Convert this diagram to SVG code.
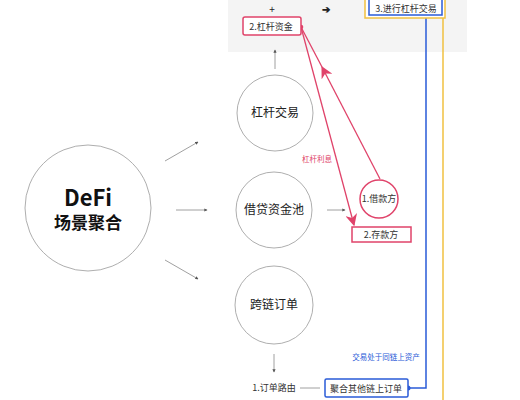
<svg xmlns="http://www.w3.org/2000/svg" width="520" height="400" viewBox="0 0 520 400">
<defs>
<style>
text{font-family:"Noto Sans CJK SC","Liberation Sans",sans-serif;}
.circ{fill:#fff;stroke:#999;stroke-width:0.8;}
.lbl{font-size:12px;fill:#222;text-anchor:middle;}
.gl{stroke:#888;stroke-width:0.8;fill:none;}
.pk{stroke:#e0436a;stroke-width:1.3;fill:none;}
.pkbox{fill:#fff;stroke:#e0436a;stroke-width:1.5;}
.bl{stroke:#2a5bd7;stroke-width:1.5;fill:none;}
.small{font-size:9px;fill:#333;text-anchor:middle;}
</style>
<marker id="ga" viewBox="0 0 6 6" refX="5" refY="3" markerWidth="4" markerHeight="4" orient="auto"><path d="M0,0 L6,3 L0,6 z" fill="#555"/></marker>
<marker id="pa" viewBox="0 0 10 10" refX="9" refY="5" markerWidth="12" markerHeight="12" markerUnits="userSpaceOnUse" orient="auto"><path d="M0,0 L10,5 L0,10 L3,5 z" fill="#e0436a"/></marker>
</defs>
<rect x="0" y="0" width="520" height="400" fill="#fff"/>
<rect x="228" y="0" width="239" height="52" fill="#f4f4f4"/>
<g id="connectors">
<line class="gl" x1="165" y1="161" x2="198" y2="142" marker-end="url(#ga)"/>
<line class="gl" x1="176" y1="210" x2="207" y2="210" marker-end="url(#ga)"/>
<line class="gl" x1="165" y1="260" x2="198" y2="279" marker-end="url(#ga)"/>
<line class="gl" x1="275" y1="69" x2="275" y2="50" marker-end="url(#ga)"/>
<line class="gl" x1="327" y1="210" x2="345" y2="210" marker-end="url(#ga)"/>
<line class="gl" x1="274" y1="354" x2="274" y2="372" marker-end="url(#ga)"/>
<line class="gl" x1="300" y1="388" x2="320" y2="388"/>
<line class="pk" x1="301" y1="27" x2="354" y2="225" marker-end="url(#pa)"/>
<line class="pk" x1="380" y1="179" x2="322" y2="67" marker-end="url(#pa)"/>
<line class="pk" x1="322" y1="67" x2="301" y2="27"/>
<polyline class="bl" points="426,15 426,388 408,388"/>
<line x1="443" y1="18" x2="443" y2="400" stroke="#f0c040" stroke-width="1.5"/>
<circle cx="301" cy="27" r="2.3" fill="#e0436a"/>
<circle cx="408" cy="388" r="2.5" fill="#2a5bd7"/>
</g>
<g id="top-ops">
<text x="272" y="13" font-size="10" font-family="Liberation Sans" text-anchor="middle" fill="#222">+</text>
<text x="326" y="13" font-size="10" font-family="DejaVu Sans" text-anchor="middle" fill="#222" font-weight="bold">➔</text>
</g>
<g id="n-trade3">
<rect x="365" y="-5" width="80" height="23" fill="#fff" stroke="#f0c040" stroke-width="1.5"/>
<rect x="369" y="-5" width="73" height="20" fill="#fff" stroke="#2a5bd7" stroke-width="1.5"/>
<text x="406" y="11.5" class="small" font-size="9.5">3.进行杠杆交易</text>
</g>
<g id="n-fund2">
<rect x="243" y="17" width="58" height="18" rx="2" class="pkbox"/>
<text x="271" y="30" class="small" font-size="10">2.杠杆资金</text>
</g>
<g id="n-defi">
<circle cx="88" cy="208" r="63" class="circ"/>
<text x="88" y="206" font-size="22" font-weight="bold" font-family="Liberation Sans" text-anchor="middle" fill="#111">DeFi</text>
<text x="88" y="229" font-size="17" font-weight="bold" text-anchor="middle" fill="#111">场景聚合</text>
</g>
<g id="n-lev">
<circle cx="275" cy="113" r="38" class="circ"/>
<text x="275" y="117" class="lbl">杠杆交易</text>
</g>
<g id="n-pool">
<circle cx="274" cy="210" r="38" class="circ"/>
<text x="274" y="214" class="lbl">借贷资金池</text>
</g>
<g id="n-cross">
<circle cx="274" cy="305" r="39" class="circ"/>
<text x="274" y="309" class="lbl">跨链订单</text>
</g>
<g id="n-borrow">
<circle cx="379" cy="199" r="19" fill="#fff" stroke="#e0436a" stroke-width="1.5"/>
<text x="379" y="202" class="small">1.借款方</text>
</g>
<g id="n-deposit">
<rect x="352" y="227" width="59" height="15" class="pkbox"/>
<text x="381" y="238" class="small">2.存款方</text>
</g>
<g id="n-route">
<text x="274" y="391" class="small">1.订单路由</text>
</g>
<g id="n-agg">
<rect x="325" y="379" width="83" height="18" rx="1.5" fill="#fff" stroke="#2a5bd7" stroke-width="1.5"/>
<text x="366" y="392" class="small">聚合其他链上订单</text>
</g>
<g id="labels">
<text x="317" y="162" font-size="7.5" fill="#e0436a" text-anchor="middle">杠杆利息</text>
<text x="386" y="360" font-size="7.5" fill="#2a5bd7" text-anchor="middle">交易处于同链上资产</text>
</g>
</svg>
